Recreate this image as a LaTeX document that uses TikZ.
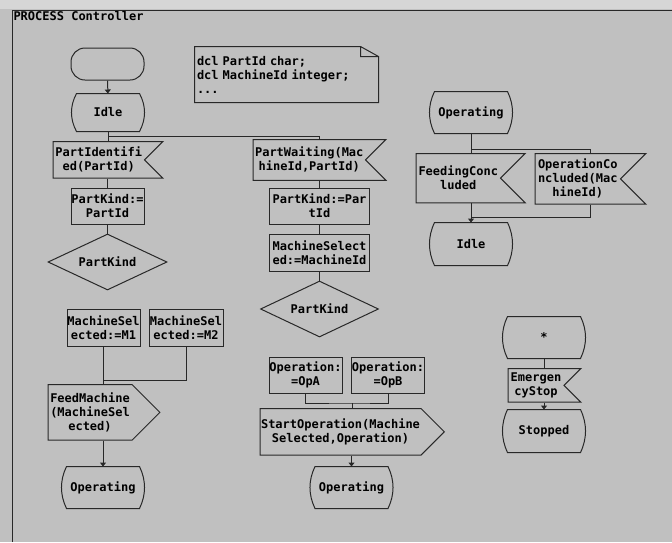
\documentclass[tikz,border=0pt]{standalone}
\usepackage{fontspec}
\usepackage{tikz}
\usetikzlibrary{shapes.symbols,shapes.geometric,arrows.meta,calc}
\newfontfamily\sdlfont{DejaVu Sans Mono}
\definecolor{sdlgray}{RGB}{192,192,192}
\definecolor{sdlstrip}{RGB}{214,214,214}
\definecolor{sdlline}{RGB}{40,40,40}

\begin{document}
\begin{tikzpicture}[x=1pt, y=-1pt, line width=1pt, >={Triangle[length=4pt,width=6pt]},
    font=\sdlfont\fontsize{12}{14}\selectfont\bfseries]
    \tikzstyle{startsym} = [rectangle, draw=sdlline, rounded corners=14, minimum width=73, minimum height=32]
    \tikzstyle{sdlstate} = [rectangle, minimum width=82, minimum height=41, inner sep=0pt,
        append after command={\pgfextra{\draw[sdlline] ([xshift=5pt]\tikzlastnode.north west) -- ([xshift=-5pt]\tikzlastnode.north east)
            .. controls ($(\tikzlastnode.north east)!0.33!(\tikzlastnode.south east)+(1.7pt,0pt)$)
            and ($(\tikzlastnode.north east)!0.67!(\tikzlastnode.south east)+(1.7pt,0pt)$) .. ([xshift=-5pt]\tikzlastnode.south east)
            -- ([xshift=5pt]\tikzlastnode.south west)
            .. controls ($(\tikzlastnode.south west)!0.33!(\tikzlastnode.north west)+(-1.7pt,0pt)$)
            and ($(\tikzlastnode.south west)!0.67!(\tikzlastnode.north west)+(-1.7pt,0pt)$) .. cycle;}}]
    \tikzstyle{textsym} = [rectangle, minimum width=183, minimum height=55, text width=179, align=left, inner xsep=2pt,
        append after command={\pgfextra{\draw[sdlline] (\tikzlastnode.north west) -- ([xshift=-18pt]\tikzlastnode.north east)
            -- ([yshift=-10pt]\tikzlastnode.north east) -- (\tikzlastnode.south east) -- (\tikzlastnode.south west) -- cycle
            ([xshift=-18pt]\tikzlastnode.north east) -- ([xshift=-18pt,yshift=-10pt]\tikzlastnode.north east) -- ([yshift=-10pt]\tikzlastnode.north east);}}]
    \tikzstyle{task} = [rectangle, draw=sdlline, inner sep=0pt, minimum height=36, align=center]
    \tikzstyle{sigin} = [signal, draw=sdlline, signal to=nowhere, signal from=east, inner xsep=0pt, align=center]
    \tikzstyle{sigout} = [signal, draw=sdlline, signal to=east, inner xsep=0pt, align=center]
    \tikzstyle{decision} = [diamond, draw=sdlline, aspect=2.1, inner sep=0pt, minimum width=119, minimum height=56]

    % Background and frame
    \useasboundingbox (0,0) rectangle (672,542);
    \fill[sdlgray] (0,0) rectangle (672,542);
    \fill[sdlstrip] (0,0) rectangle (672,9);
    \draw[sdlline] (12,542) -- (12,10) -- (672,10);
    \node[anchor=base west, inner sep=0pt] (title) at (13,20) {PROCESS Controller};

    % Declarations
    \node[textsym] (decl) at (286.5,74.5) {dcl PartId char;\\dcl MachineId integer;\\...};

    % Left branch
    \node[startsym] (start) at (107.5,64) {};
    \node[sdlstate, minimum width=72, minimum height=37] (idle) at (108,112.5) {Idle};
    \node[sigin, text width=91.5, inner ysep=5.7, anchor=north] (partid) at (98.75,141) {PartIdentifi\\ed(PartId)};
    \node[task, minimum width=73] (kindset) at (107.5,206) {PartKind:=\\PartId};
    \node[decision] (kind) at (107.5,262) {PartKind};
    \node[task, minimum width=73, minimum height=37] (m1) at (103.5,327.5) {MachineSel\\ected:=M1};
    \node[task, minimum width=74, minimum height=37] (m2) at (186,327.5) {MachineSel\\ected:=M2};
    \node[sigout, text width=84, inner ysep=8.2, anchor=north] (feed) at (90,384) {FeedMachine\\(MachineSel\\ected)};
    \node[sdlstate] (operating1) at (103,487.5) {Operating};

    % Middle branch
    \node[sigin, text width=112.5, inner ysep=7.7, anchor=north] (waiting) at (309.25,139) {PartWaiting(Mac\\hineId,PartId)};
    \node[task, minimum width=100] (kindset2) at (319.5,206) {PartKind:=Par\\tId};
    \node[task, minimum width=100, minimum height=37] (selset) at (319.5,252.5) {MachineSelect\\ed:=MachineId};
    \node[decision, minimum width=118] (kind2) at (319.5,309) {PartKind};
    \node[task, minimum width=73] (opa) at (305.5,375) {Operation:\\=OpA};
    \node[task, minimum width=72] (opb) at (388,375) {Operation:\\=OpB};
    \coordinate (opjoin) at (352,403);
    \node[sigout, text width=161, inner ysep=10.2, anchor=north] (startop) at (340.5,408) {StartOperation(Machine\\Selected,Operation)};
    \node[sdlstate] (operating2) at (351.5,487.5) {Operating};

    % Right branch
    \node[sdlstate] (operating3) at (471,112.5) {Operating};
    \node[sigin, text width=84.5, inner ysep=12.7, anchor=north] (fedc) at (458.25,153) {FeedingConc\\luded};
    \node[sigin, text width=85.5, inner ysep=5.7, anchor=north] (opc) at (577.75,153) {OperationCo\\ncluded(Mac\\hineId)};
    \node[sdlstate, minimum height=42] (idle2) at (471,244) {Idle};

    % Any state
    \node[sdlstate] (any) at (544,337.5) {*};
    \node[sigin, text width=56, inner ysep=4.2, anchor=north] (estop) at (536,368) {Emergen\\cyStop};
    \node[sdlstate, minimum height=42] (stopped) at (544,431) {Stopped};

    % Connections
    \draw[->, sdlline] (start) -- (idle);
    \draw[sdlline] (idle.south) -- (idle.south |- partid.north);
    \draw[sdlline] (idle.south) ++(0,4.5) -| (kindset2.north |- waiting.north);
    \draw[sdlline] (kindset.north |- partid.south) -- (kindset.north);
    \draw[sdlline] (kindset.south) -- (kind.north);
    \draw[sdlline] (m1.south) -- (m1.south |- feed.north);
    \draw[sdlline] (m1.south) ++(0,34) -| (m2.south);
    \draw[->, sdlline] (operating1.north |- feed.south) -- (operating1.north);
    \draw[sdlline] (kindset2.north |- waiting.south) -- (kindset2.north);
    \draw[sdlline] (kindset2.south) -- (selset.north);
    \draw[sdlline] (selset.south) -- (kind2.north);
    \draw[sdlline] (opa.south) |- (opjoin) -| (opb.south);
    \draw[sdlline] (opjoin) -- (opjoin |- startop.north);
    \draw[->, sdlline] (operating2.north |- startop.south) -- (operating2.north);
    \draw[sdlline] (operating3.south) -- (operating3.south |- fedc.north);
    \draw[sdlline] (operating3.south) ++(0,16) -| ([xshift=12.75pt]opc.north);
    \draw[->, sdlline] (idle2.north |- fedc.south) -- (idle2.north);
    \draw[sdlline] ([xshift=12.75pt]opc.south) |- ($(idle2.north)+(0,-5)$);
    \draw[sdlline] (any.south) -- (any.south |- estop.north);
    \draw[->, sdlline] (stopped.north |- estop.south) -- (stopped.north);
\end{tikzpicture}
\end{document}
